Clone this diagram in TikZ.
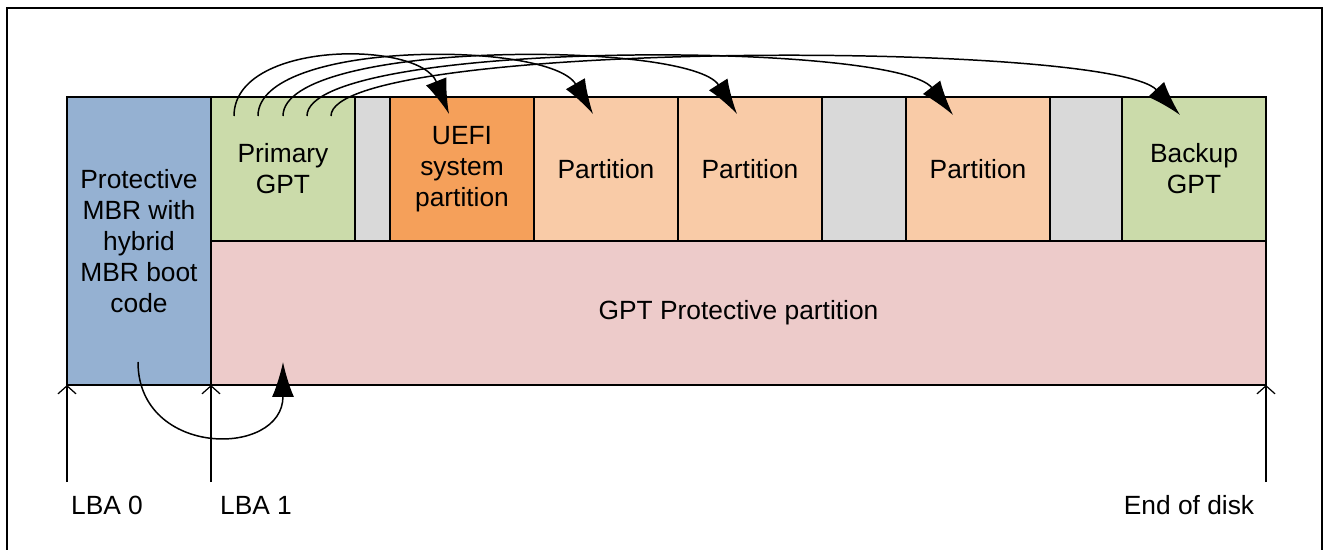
\documentclass[tikz,border=0pt]{standalone}
\usepackage{fontspec}
\setmainfont{Liberation Sans}
\usepackage{tikz}
\usetikzlibrary{arrows.meta}
\definecolor{mbrblue}{RGB}{149,177,210}
\definecolor{gptgreen}{RGB}{203,219,170}
\definecolor{gapgray}{RGB}{217,217,217}
\definecolor{uefiorange}{RGB}{245,160,90}
\definecolor{partpeach}{RGB}{249,203,167}
\definecolor{protpink}{RGB}{237,203,202}
\tikzset{
  blk/.style={draw, line width=0.85pt, inner sep=0pt, align=center,
    font=\fontsize{15}{17.6}\selectfont, minimum height=2.88cm},
  lnk/.style={line width=0.85pt, -{Latex[length=7mm,width=4.4mm]}},
  lba/.style={line width=0.7pt, -{Straight Barb[length=1.6mm,width=3.6mm]}},
  lbl/.style={font=\fontsize{15}{17.6}\selectfont}
}

\begin{document}
\begin{tikzpicture}[x=0.02cm, y=-0.02cm]
      \useasboundingbox (0,0) rectangle (1325,550);
      \draw[line width=1.3pt] (7,8) rectangle (1322,570);
      % disk blocks
      \node (mbr) at (139,241) [blk, fill=mbrblue, minimum width=2.88cm, minimum height=5.76cm] {Protective\\MBR with\\hybrid\\MBR boot\\code};
      \node (pgpt) at (283,169) [blk, fill=gptgreen, minimum width=2.88cm] {Primary\\GPT};
      \node (gapa) at (372.5,169) [blk, fill=gapgray, minimum width=0.7cm] {};
      \node (uefi) at (462,169) [blk, fill=uefiorange, minimum width=2.88cm] {UEFI\\system\\partition};
      \node (parta) at (606,169) [blk, fill=partpeach, minimum width=2.88cm] {Partition};
      \node (partb) at (750,169) [blk, fill=partpeach, minimum width=2.88cm] {Partition};
      \node (gapb) at (864,169) [blk, fill=gapgray, minimum width=1.68cm] {};
      \node (partc) at (978,169) [blk, fill=partpeach, minimum width=2.88cm] {Partition};
      \node (gapc) at (1086,169) [blk, fill=gapgray, minimum width=1.44cm] {};
      \node (bgpt) at (1194,169) [blk, fill=gptgreen, minimum width=2.88cm] {Backup\\GPT};
      \node (prot) at (738.5,313) [blk, fill=protpink, minimum width=21.1cm] {GPT Protective partition};
      % links from the primary GPT
      \coordinate (sa) at (234,116);
      \coordinate (sb) at (258,116);
      \coordinate (sc) at (283,116);
      \coordinate (sd) at (307,116);
      \coordinate (se) at (331,116);
      \coordinate (ta) at (449,114);
      \coordinate (tb) at (593,114);
      \coordinate (tc) at (737,114);
      \coordinate (td) at (953,115);
      \coordinate (te) at (1180,115);
      \draw[lnk] (sa) .. controls (234,40) and (420,40) .. (ta);
      \draw[lnk] (sb) .. controls (258,40) and (550,40) .. (tb);
      \draw[lnk] (sc) .. controls (283,40) and (690,40) .. (tc);
      \draw[lnk] (sd) .. controls (307,40) and (895,40) .. (td);
      \draw[lnk] (se) .. controls (331,40) and (1110,40) .. (te);
      % hybrid MBR link
      \coordinate (ma) at (138,362);
      \coordinate (mb) at (283,362);
      \draw[lnk] (ma) .. controls +(0,96) and +(0,96) .. (mb);
      % LBA markers
      \coordinate (lzero) at (67,385);
      \coordinate (lone) at (211,385);
      \coordinate (lend) at (1266,385);
      \coordinate (lzerob) at (67,482);
      \coordinate (loneb) at (211,482);
      \coordinate (lendb) at (1266,482);
      \draw[lba] (lzerob) to (lzero);
      \draw[lba] (loneb) to (lone);
      \draw[lba] (lendb) to (lend);
      \node (lbazero) at (107,505) [lbl] {LBA 0};
      \node (lbaone) at (256,505) [lbl] {LBA 1};
      \node (diskend) at (1189,505) [lbl] {End of disk};
    \end{tikzpicture}
\end{document}
